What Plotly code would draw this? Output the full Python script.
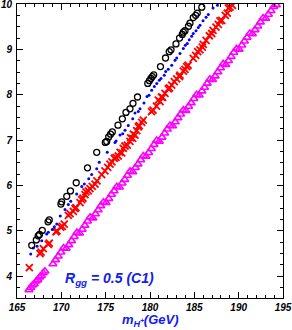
import plotly.graph_objects as go

# ---- data ----
black_x = [166.66, 167.18, 167.39, 167.54, 167.85, 168.50, 168.64, 169.95, 170.04, 170.61,
           171.03, 171.68, 172.95, 173.99, 174.96, 175.12, 175.34, 175.55, 175.75, 176.39,
           176.88, 177.29, 177.74, 178.08, 178.59, 179.75, 179.94, 180.11, 180.26, 180.42,
           181.18, 181.75, 182.17, 182.37, 182.93, 183.33, 183.64, 183.76, 183.95, 184.34,
           184.51, 184.88, 185.15, 185.33, 185.84]
black_y = [4.68, 4.80, 4.89, 4.92, 5.01, 5.20, 5.24, 5.59, 5.64, 5.76,
           5.88, 6.06, 6.39, 6.73, 6.95, 6.97, 7.07, 7.13, 7.18, 7.33,
           7.47, 7.61, 7.69, 7.81, 7.95, 8.25, 8.31, 8.36, 8.40, 8.44,
           8.62, 8.81, 8.95, 8.99, 9.12, 9.25, 9.33, 9.38, 9.41, 9.51,
           9.58, 9.70, 9.75, 9.80, 9.93]

blue_x = [166.55, 166.84, 167.26, 167.79, 168.35, 168.53, 168.98, 169.21, 169.48, 169.88,
          170.41, 170.79, 171.06, 171.73, 172.30, 172.59, 173.09, 173.42, 173.99, 174.28,
          175.18, 176.05, 176.17, 176.62, 176.92, 177.18, 177.55, 178.05, 178.31, 178.68,
          178.87, 179.32, 179.66, 179.89, 180.19, 180.49, 180.76, 181.05, 181.24, 181.61,
          181.77, 182.06, 182.45, 182.82, 183.01, 183.38, 183.76, 183.98, 184.21, 184.43,
          184.70, 184.88, 185.19, 185.45, 185.64, 185.98, 186.32, 186.58, 187.11, 187.61]
blue_y = [4.49, 4.62, 4.66, 4.78, 4.93, 4.97, 5.03, 5.09, 5.15, 5.33,
          5.47, 5.58, 5.65, 5.81, 5.98, 6.03, 6.15, 6.24, 6.37, 6.51,
          6.73, 6.95, 6.98, 7.11, 7.14, 7.22, 7.32, 7.47, 7.60, 7.63,
          7.69, 7.82, 7.96, 7.99, 8.10, 8.18, 8.25, 8.32, 8.36, 8.43,
          8.51, 8.56, 8.65, 8.76, 8.81, 8.91, 9.02, 9.09, 9.13, 9.21,
          9.29, 9.35, 9.41, 9.48, 9.53, 9.63, 9.71, 9.77, 9.91, 9.97]

red_x = [166.39, 167.59, 167.71, 167.97, 168.53, 168.64, 169.40, 169.51, 169.93, 170.11,
         170.33, 170.79, 170.98, 171.35, 171.54, 171.65, 172.11, 172.30, 172.44, 172.67,
         172.78, 173.04, 173.23, 173.49, 173.80, 174.02, 174.55, 174.92, 175.23, 175.49,
         175.71, 175.97, 176.17, 176.42, 176.62, 176.81, 176.99, 177.18, 177.44, 177.74,
         177.82, 178.05, 178.12, 178.31, 178.50, 178.68, 178.79, 179.06, 179.24, 180.17,
         180.34, 180.73, 180.94, 181.13, 181.30, 181.43, 181.69, 182.06, 182.20, 182.45,
         182.74, 183.01, 183.33, 183.38, 183.76, 183.95, 184.14, 184.29, 184.88, 185.15,
         185.38, 185.64, 185.90, 186.01, 186.32, 186.69, 186.96, 187.11, 187.44, 187.70,
         187.89, 188.09, 188.49, 188.72, 188.85, 189.02, 189.30]
red_y = [4.19, 4.50, 4.53, 4.61, 4.70, 4.73, 4.98, 5.00, 5.08, 5.10,
         5.15, 5.34, 5.38, 5.43, 5.49, 5.51, 5.62, 5.69, 5.72, 5.80,
         5.86, 5.88, 5.93, 5.98, 6.03, 6.10, 6.24, 6.32, 6.40, 6.47,
         6.52, 6.60, 6.62, 6.65, 6.73, 6.72, 6.82, 6.87, 6.89, 6.97,
         7.05, 7.04, 7.13, 7.11, 7.21, 7.29, 7.32, 7.39, 7.44, 7.63,
         7.66, 7.75, 7.88, 7.85, 7.95, 7.94, 8.03, 8.13, 8.15, 8.21,
         8.29, 8.35, 8.40, 8.43, 8.52, 8.56, 8.62, 8.65, 8.80, 8.87,
         8.95, 8.99, 9.05, 9.11, 9.20, 9.30, 9.35, 9.42, 9.49, 9.55,
         9.63, 9.64, 9.75, 9.80, 9.91, 9.93, 9.97]

magenta_x = [166.35, 166.55, 166.75, 166.95, 167.15, 167.35, 167.55, 167.75, 167.95, 168.15,
             169.05, 169.35, 169.65, 169.95, 170.25, 170.55, 170.85, 171.15, 171.45, 171.75,
             172.05, 172.35, 172.65, 172.95, 173.25, 173.55, 173.85, 174.15, 174.45, 174.75,
             175.05, 175.35, 175.65, 175.95, 176.25, 176.55, 176.85, 177.15, 177.45, 177.75,
             178.05, 178.35, 178.65, 178.95, 179.25, 179.55, 179.85, 180.15, 180.45, 180.75,
             181.05, 181.35, 181.65, 181.95, 182.25, 182.55, 182.85, 183.15, 183.45, 183.75,
             184.05, 184.35, 184.65, 184.95, 185.25, 185.55, 185.85, 186.15, 186.45, 186.75,
             187.05, 187.35, 187.65, 187.95, 188.25, 188.55, 188.85, 189.15, 189.45, 189.75,
             190.05, 190.35, 190.65, 190.95, 191.25, 191.55, 191.85, 192.15, 192.45, 192.75,
             193.05, 193.35, 193.65, 193.95, 194.25]
magenta_y = [3.70, 3.75, 3.80, 3.83, 3.89, 3.92, 3.98, 4.01, 4.07, 4.11,
             4.27, 4.36, 4.44, 4.53, 4.62, 4.61, 4.69, 4.78, 4.87, 4.96,
             4.95, 5.03, 5.12, 5.21, 5.30, 5.28, 5.37, 5.46, 5.55, 5.63,
             5.62, 5.71, 5.80, 5.88, 5.97, 5.96, 6.05, 6.13, 6.22, 6.31,
             6.30, 6.39, 6.47, 6.56, 6.65, 6.64, 6.72, 6.81, 6.90, 6.99,
             6.97, 7.06, 7.15, 7.24, 7.32, 7.31, 7.40, 7.49, 7.57, 7.66,
             7.65, 7.74, 7.82, 7.91, 8.00, 7.99, 8.08, 8.16, 8.25, 8.34,
             8.33, 8.41, 8.50, 8.59, 8.68, 8.66, 8.75, 8.84, 8.93, 9.01,
             9.00, 9.09, 9.18, 9.26, 9.35, 9.34, 9.43, 9.51, 9.60, 9.69,
             9.68, 9.77, 9.85, 9.94, 9.98]

x_ticks = [165, 170, 175, 180, 185, 190, 195]
y_ticks = [4, 5, 6, 7, 8, 9, 10]

BLUE_TXT = "#1020f0"

fig = go.Figure()
fig.add_trace(go.Scatter(x=magenta_x, y=magenta_y, mode="markers",
                         marker=dict(symbol="triangle-up-open", size=7, color="#ff00ff",
                                     line=dict(width=1.6, color="#ff00ff"))))
fig.add_trace(go.Scatter(x=red_x, y=red_y, mode="markers",
                         marker=dict(symbol="x-thin", size=7, color="#ff0000",
                                     line=dict(width=1.8, color="#ff0000"))))
fig.add_trace(go.Scatter(x=blue_x, y=blue_y, mode="markers",
                         marker=dict(symbol="circle", size=3, color="#0000ff",
                                     line=dict(width=0))))
fig.add_trace(go.Scatter(x=black_x, y=black_y, mode="markers",
                         marker=dict(symbol="circle-open", size=6, color="#000000",
                                     line=dict(width=1.3, color="#000000"))))

tickfont = dict(family="Liberation Sans", size=10, color="black", style="italic", weight="bold")

fig.update_layout(
    width=292, height=330,
    margin=dict(l=17, r=9, t=4, b=32),
    paper_bgcolor="white", plot_bgcolor="white",
    showlegend=False,
    xaxis=dict(range=[165, 195], tickvals=x_ticks, ticktext=[str(v) for v in x_ticks],
               ticks="inside", ticklen=6, tickwidth=1, tickcolor="black",
               showline=True, linecolor="black", linewidth=1, mirror="ticks",
               showgrid=False, zeroline=False, tickfont=tickfont, automargin=False,
               ticklabeloverflow="allow",
               minor=dict(dtick=1, ticks="inside", ticklen=3, tickcolor="black", showgrid=False)),
    yaxis=dict(range=[3.52, 10], tickvals=y_ticks, ticktext=[str(v) for v in y_ticks],
               ticks="inside", ticklen=6, tickwidth=1, tickcolor="black",
               showline=True, linecolor="black", linewidth=1, mirror="ticks",
               showgrid=False, zeroline=False, tickfont=tickfont, automargin=False,
               ticklabelstandoff=2, ticklabeloverflow="allow",
               minor=dict(dtick=0.25, ticks="inside", ticklen=3, tickcolor="black", showgrid=False)),
    annotations=[
        dict(text="R<sub>gg</sub> = 0.5 (C1)", xref="paper", yref="paper",
             x=(63 - 17) / 266, y=(298 - 279) / 294, xanchor="left", yanchor="middle",
             showarrow=False,
             font=dict(family="Liberation Sans", size=14, color=BLUE_TXT, style="italic", weight="bold")),
        dict(text="m<sub>H<sup>+</sup></sub>(GeV)", xref="paper", yref="paper",
             x=(120 - 17) / 266, y=-(320 - 298) / 294, xanchor="left", yanchor="middle",
             showarrow=False,
             font=dict(family="Liberation Sans", size=13, color=BLUE_TXT, style="italic", weight="bold")),
    ],
)

fig.write_html("out.html", config={"displayModeBar": False},
               post_script="document.body.style.margin='0px';document.body.style.overflow='hidden';")
